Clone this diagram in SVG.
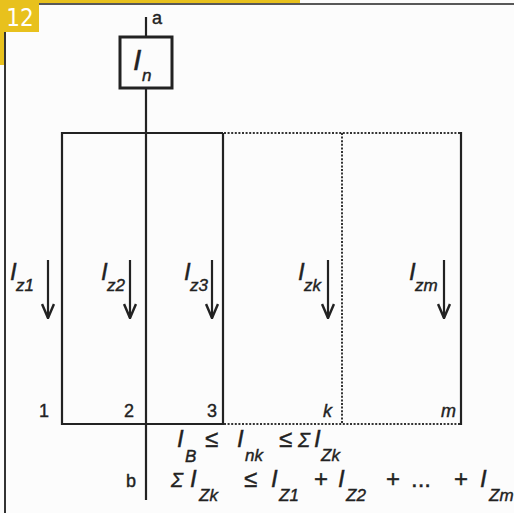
<svg xmlns="http://www.w3.org/2000/svg" width="514" height="513" viewBox="0 0 514 513">
<style>
.ln{stroke:#222;stroke-width:2.2;fill:none}
.dot{stroke:#333;stroke-width:2;fill:none;stroke-dasharray:2 1.6}
.t{font-family:"Liberation Sans",Arial,sans-serif;fill:#222;stroke:#222;stroke-width:0.4}
.i{font-style:italic}
.big{font-size:24px}
.sg{font-size:20px}
.sub{font-size:17px}
.num{font-size:18px}
</style>
<defs>
<marker id="ah" markerWidth="16" markerHeight="14" refX="15" refY="7" orient="auto" markerUnits="userSpaceOnUse" viewBox="0 0 16 14">
<path d="M1,1 L15,7 L1,13" fill="none" stroke="#222" stroke-width="2.5"/>
</marker>
</defs>
<rect x="0" y="0" width="514" height="513" fill="#fcfcfc"/>
<g id="frame">
<rect x="0" y="0" width="300" height="3" fill="#e8c11d"/>
<rect x="0" y="0" width="39" height="32" fill="#e8c11d"/>
<rect x="0" y="32" width="4" height="33" fill="#e8c11d"/>
<line x1="39" y1="4" x2="514" y2="4" stroke="#222" stroke-width="1.6"/>
<line x1="5" y1="32" x2="5" y2="513" stroke="#333" stroke-width="2"/>
<text x="20" y="26" text-anchor="middle" font-family="DejaVu Sans Condensed,DejaVu Sans,sans-serif" font-size="24" fill="#fff">12</text>
</g>
<g id="connectors">
<line class="ln" x1="146" y1="17" x2="146" y2="37"/>
<line class="ln" x1="146" y1="88" x2="146" y2="500"/>
<polyline class="ln" points="223,133 62,133 62,424 223,424 223,133"/>
<line class="dot" x1="224" y1="133" x2="461" y2="133"/>
<line class="dot" x1="224" y1="424" x2="461" y2="424"/>
<line class="dot" x1="342" y1="133" x2="342" y2="424"/>
<line class="ln" x1="461" y1="132" x2="461" y2="425"/>
<line class="ln" x1="48" y1="260" x2="48" y2="318" marker-end="url(#ah)"/>
<line class="ln" x1="130" y1="260" x2="130" y2="318" marker-end="url(#ah)"/>
<line class="ln" x1="212" y1="260" x2="212" y2="318" marker-end="url(#ah)"/>
<line class="ln" x1="328" y1="260" x2="328" y2="318" marker-end="url(#ah)"/>
<line class="ln" x1="444" y1="260" x2="444" y2="318" marker-end="url(#ah)"/>
</g>
<g id="node-a"><text class="t" x="152" y="24" font-size="18">a</text></g>
<g id="node-In">
<rect x="120" y="37" width="52" height="51" fill="#fcfcfc" stroke="#222" stroke-width="3"/>
<text class="t i" x="133" y="70" font-size="30">I</text>
<text class="t i" x="142" y="81" font-size="17">n</text>
</g>
<g id="node-1">
<text class="t i big" x="10" y="280">I</text><text class="t i sub" x="16" y="291">z1</text>
<text class="t num" x="39" y="417">1</text>
</g>
<g id="node-2">
<text class="t i big" x="101" y="280">I</text><text class="t i sub" x="107" y="291">z2</text>
<text class="t num" x="124" y="417">2</text>
</g>
<g id="node-3">
<text class="t i big" x="184" y="280">I</text><text class="t i sub" x="190" y="291">z3</text>
<text class="t num" x="207" y="417">3</text>
</g>
<g id="node-k">
<text class="t i big" x="298" y="280">I</text><text class="t i sub" x="304" y="291">zk</text>
<text class="t i num" x="323" y="417">k</text>
</g>
<g id="node-m">
<text class="t i big" x="409" y="280">I</text><text class="t i sub" x="415" y="291">zm</text>
<text class="t i num" x="441" y="417">m</text>
</g>
<g id="node-b"><text class="t" x="126" y="487" font-size="18">b</text></g>
<g id="formulas">
<text class="t i big" x="177" y="447">I</text><text class="t i sub" x="185" y="462">B</text>
<text class="t big" x="205" y="447">≤</text>
<text class="t i big" x="237" y="447">I</text><text class="t i sub" x="245" y="461">nk</text>
<text class="t big" x="279" y="447">≤</text>
<text class="t i sg" x="298" y="447">Σ</text>
<text class="t i big" x="314" y="447">I</text><text class="t i sub" x="321" y="461">Zk</text>
<text class="t i sg" x="171" y="487">Σ</text>
<text class="t i big" x="190" y="487">I</text><text class="t i sub" x="199" y="501">Zk</text>
<text class="t big" x="244" y="487">≤</text>
<text class="t i big" x="271" y="487">I</text><text class="t i sub" x="279" y="501">Z1</text>
<text class="t big" x="314" y="487">+</text>
<text class="t i big" x="338" y="487">I</text><text class="t i sub" x="346" y="501">Z2</text>
<text class="t big" x="386" y="487">+</text>
<text class="t big" x="411" y="487">...</text>
<text class="t big" x="454" y="487">+</text>
<text class="t i big" x="480" y="487">I</text><text class="t i sub" x="489" y="501">Zm</text>
</g>
</svg>
